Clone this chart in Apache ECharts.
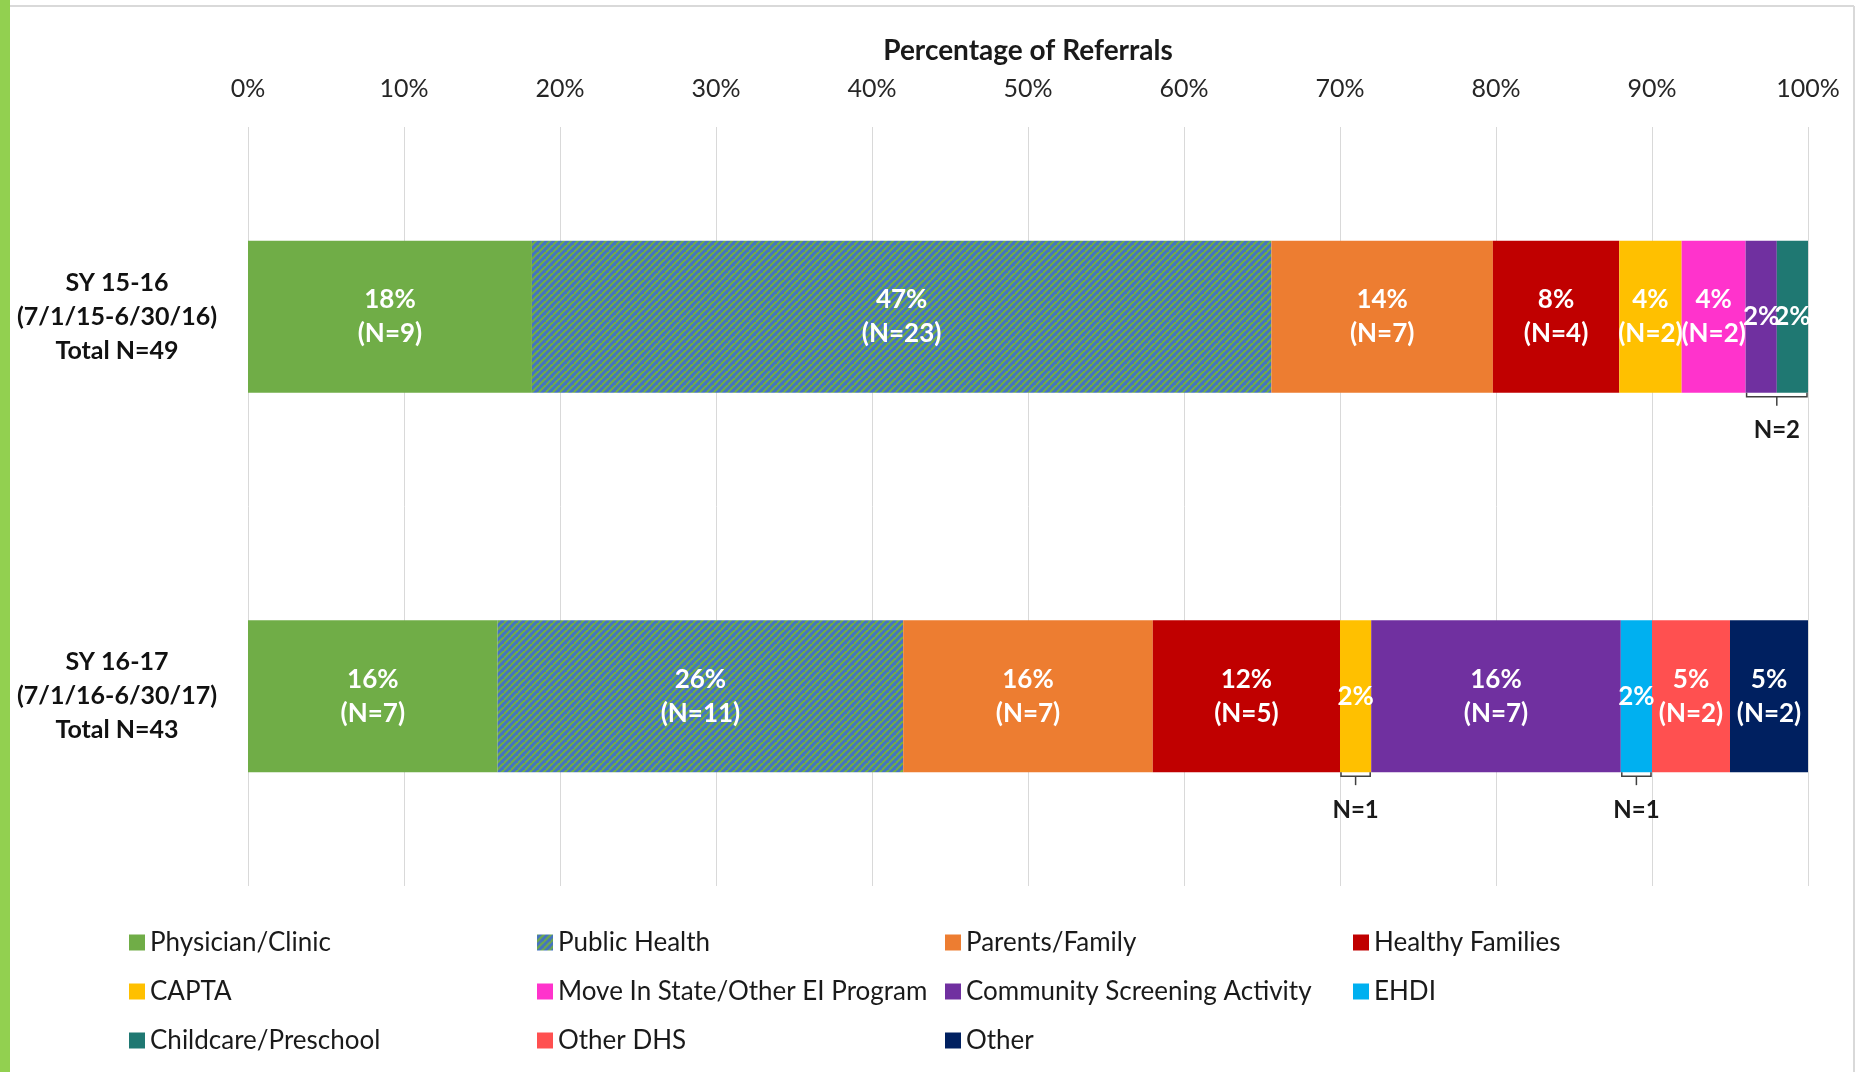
<!DOCTYPE html>
<html>
<head>
<meta charset="utf-8">
<script src="https://cdn.jsdelivr.net/npm/echarts@6/dist/echarts.min.js"></script>
<style>
html, body { margin: 0; padding: 0; background: #fff; }
#main { width: 1858px; height: 1072px; }
</style>
</head>
<body>
<div id="main"></div>
<script>
var years = ['SY 15-16\n(7/1/15-6/30/16)\nTotal N=49', 'SY 16-17\n(7/1/16-6/30/17)\nTotal N=43'];
var sources = ['Physician/Clinic', 'Public Health', 'Parents/Family', 'Healthy Families', 'CAPTA',
	'Move In State/Other EI Program', 'Community Screening Activity', 'EHDI', 'Childcare/Preschool',
	'Other DHS', 'Other'];
// percentage of referrals per source, in the order above
var pct1516 = [18.2, 47.4, 14.2, 8.1, 4.0, 4.1, 2.0, 0, 2.0, 0, 0];
var pct1617 = [16, 26, 16, 12, 2, 0, 16, 2, 0, 5, 5];
// referral counts per source
var counts1516 = [9, 23, 7, 4, 2, 2, 1, 0, 1, 0, 0];
var counts1617 = [7, 11, 7, 5, 1, 0, 7, 1, 0, 2, 2];
var colors = ['#70AD47', 'hatch', '#ED7D31', '#C00000', '#FFC000', '#FF33CC', '#7030A0', '#00B0F0', '#1F7872', '#FF5050', '#002060'];
// small segments grouped under a bracket: year index, first and last source index
var brackets = [
	{year: 0, from: 6, to: 8, text: 'N=2'},
	{year: 1, from: 4, to: 4, text: 'N=1'},
	{year: 1, from: 7, to: 7, text: 'N=1'}
];

var FONT = 'Lato';
var pcts = [pct1516, pct1617];
var counts = [counts1516, counts1617];

// blue / green diagonal stripes for Public Health
function hatch() {
	var s = 7;
	var c = document.createElement('canvas');
	c.width = s; c.height = s;
	var ctx = c.getContext('2d');
	ctx.fillStyle = '#4472C4';
	ctx.fillRect(0, 0, s, s);
	ctx.strokeStyle = '#70AD47';
	ctx.lineWidth = 2.2;
	for (var k = -s; k <= 2 * s; k += s) {
		ctx.beginPath();
		ctx.moveTo(k - s, s);
		ctx.lineTo(k + s, -s);
		ctx.stroke();
	}
	return {image: c, repeat: 'repeat'};
}

var series = sources.map(function (name, i) {
	return {
		name: name,
		type: 'bar',
		stack: 'all',
		barWidth: '40%',
		itemStyle: {color: colors[i] === 'hatch' ? hatch() : colors[i]},
		label: {
			show: true,
			position: 'inside',
			color: '#fff',
			fontFamily: FONT,
			fontWeight: 'bold',
			fontSize: 26,
			lineHeight: 34,
			formatter: function (p) {
				var n = counts[p.dataIndex][i];
				if (!n) return '';
				var s = Math.round(p.value) + '%';
				return n > 1 ? s + '\n(N=' + n + ')' : s;
			}
		},
		data: [pct1516[i], pct1617[i]]
	};
});

// bracket data: [start %, end %, year, text]
var bracketData = brackets.map(function (b) {
	var start = 0, end = 0;
	for (var i = 0; i <= b.to; i++) {
		if (i < b.from) start += pcts[b.year][i];
		end += pcts[b.year][i];
	}
	return [start, end, b.year, b.text];
});

series.push({
	type: 'custom',
	name: 'brackets',
	z: 5,
	encode: {x: [0, 1], y: 2},
	data: bracketData,
	renderItem: function (params, api) {
		var p1 = api.coord([api.value(0), api.value(2)]);
		var p2 = api.coord([api.value(1), api.value(2)]);
		var half = api.size([0, 1])[1] * 0.4 / 2;
		var y0 = p1[1] + half;
		var y1 = y0 + 4;
		var xm = (p1[0] + p2[0]) / 2;
		var line = {stroke: '#404040', lineWidth: 1.5, fill: null};
		return {
			type: 'group',
			children: [
				{type: 'polyline', shape: {points: [[p1[0] + 1, y0], [p1[0] + 1, y1], [p2[0] - 1, y1], [p2[0] - 1, y0]]}, style: line},
				{type: 'line', shape: {x1: xm, y1: y1, x2: xm, y2: y1 + 9}, style: line},
				{type: 'text', x: xm, y: y0 + 38, style: {
					text: api.value(3), fill: '#1a1a1a', font: 'bold 24px ' + FONT,
					textAlign: 'center', textVerticalAlign: 'middle'
				}}
			]
		};
	}
});

var chart = echarts.init(document.getElementById('main'));

chart.setOption({
	backgroundColor: '#fff',
	animation: false,
	graphic: [
		{type: 'rect', shape: {x: 0, y: 0, width: 10, height: 1072}, style: {fill: '#92D050'}},
		{type: 'line', shape: {x1: 10, y1: 6, x2: 1854, y2: 6}, style: {stroke: '#d9d9d9', lineWidth: 2}},
		{type: 'line', shape: {x1: 1854, y1: 6, x2: 1854, y2: 1072}, style: {stroke: '#d9d9d9', lineWidth: 2}}
	],
	grid: {left: 248, right: 50, top: 127, bottom: 186, containLabel: false},
	xAxis: {
		type: 'value',
		position: 'top',
		min: 0,
		max: 100,
		interval: 10,
		name: 'Percentage of Referrals',
		nameLocation: 'middle',
		nameGap: 62,
		nameTextStyle: {fontFamily: FONT, fontWeight: 'bold', fontSize: 28, color: '#1a1a1a'},
		axisLine: {show: false},
		axisTick: {show: false},
		axisLabel: {formatter: '{value}%', fontFamily: FONT, fontSize: 25, color: '#262626', margin: 26},
		splitLine: {lineStyle: {color: '#d9d9d9', width: 1}}
	},
	yAxis: {
		type: 'category',
		inverse: true,
		data: years,
		axisLine: {show: false},
		axisTick: {show: false},
		axisLabel: {
			fontFamily: FONT, fontWeight: 'bold', fontSize: 25, lineHeight: 34,
			color: '#111', align: 'center', margin: 131
		}
	},
	legend: {
		data: sources,
		left: 124,
		top: 913,
		width: 1640,
		orient: 'horizontal',
		itemWidth: 16,
		itemHeight: 16,
		itemGap: 0,
		icon: 'rect',
		textStyle: {fontFamily: FONT, fontSize: 26, color: '#1a1a1a', width: 387, lineHeight: 49}
	},
	series: series
});
</script>
</body>
</html>
